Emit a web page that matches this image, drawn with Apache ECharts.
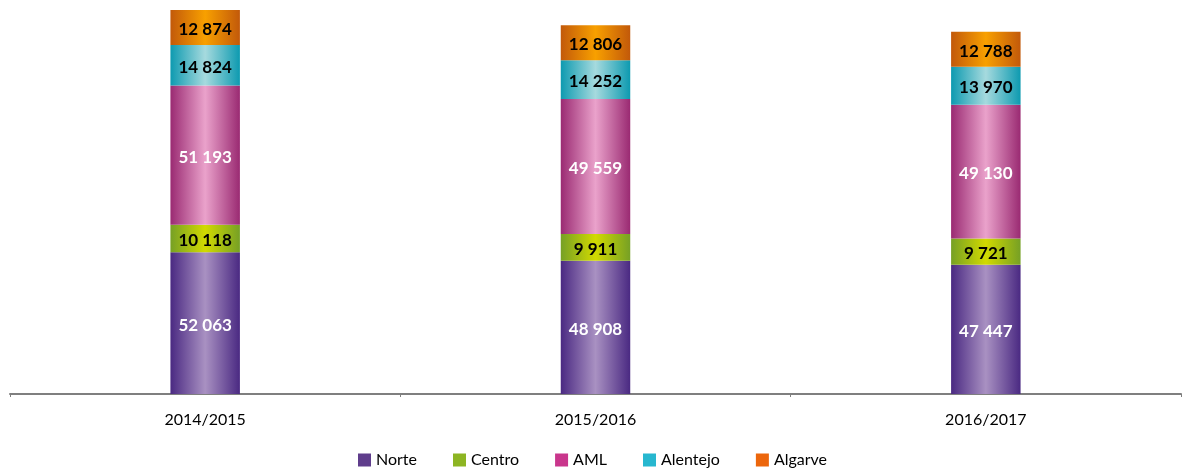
<!DOCTYPE html>
<html>
<head>
<meta charset="utf-8">
<script src="https://cdn.jsdelivr.net/npm/echarts@6/dist/echarts.min.js"></script>
<style>
  html, body { margin: 0; padding: 0; background: #fff; }
  #chart { width: 1185px; height: 470px; }
</style>
</head>
<body>
<div id="chart"></div>
<script>
// School years on the category axis
const years = ['2014/2015', '2015/2016', '2016/2017'];

// Values per region, stacked bottom to top
const norte    = [52063, 48908, 47447];
const centro   = [10118, 9911, 9721];
const aml      = [51193, 49559, 49130];
const alentejo = [14824, 14252, 13970];
const algarve  = [12874, 12806, 12788];

const regions = ['Norte', 'Centro', 'AML', 'Alentejo', 'Algarve'];

// Edge / centre colours of each bar's horizontal sheen, plus legend swatch colour
const palette = [
  { edge: '#4a2982', mid: '#a991c2', swatch: '#5f3d8c', text: '#ffffff' },
  { edge: '#76a025', mid: '#d2da00', swatch: '#8db523', text: '#000000' },
  { edge: '#9a2a72', mid: '#eaa2cb', swatch: '#c9368c', text: '#ffffff' },
  { edge: '#0d9ab0', mid: '#a6dade', swatch: '#27b7cf', text: '#000000' },
  { edge: '#c2590a', mid: '#f8a000', swatch: '#ec660c', text: '#000000' }
];

const values = [norte, centro, aml, alentejo, algarve];
const totals = years.map((_, i) => values.reduce((s, arr) => s + arr[i], 0));
const yMax = Math.max(...totals);

const fmt = v => String(v).replace(/\B(?=(\d{3})+(?!\d))/g, ' ');

const FONT = 'Lato';

const series = regions.map((name, k) => ({
  name: name,
  type: 'bar',
  stack: 'total',
  barWidth: '17.8%',
  data: values[k],
  itemStyle: {
    color: new echarts.graphic.LinearGradient(0, 0, 1, 0, [
      { offset: 0, color: palette[k].edge },
      { offset: 0.5, color: palette[k].mid },
      { offset: 1, color: palette[k].edge }
    ])
  },
  label: {
    show: true,
    position: 'inside',
    offset: [0, 2],
    formatter: p => fmt(p.value),
    color: palette[k].text,
    fontFamily: FONT,
    fontWeight: 'bold',
    fontSize: 17
  },
  emphasis: { disabled: true }
}));

const chart = echarts.init(document.getElementById('chart'), null, { renderer: 'canvas' });
chart.setOption({
  animation: false,
  color: palette.map(p => p.swatch),
  grid: { left: 10, right: 4, top: 10, bottom: 76, containLabel: false },
  legend: {
    top: 447,
    left: 'center',
    itemWidth: 13,
    itemHeight: 13,
    itemGap: 36,
    icon: 'rect',
    textStyle: { fontFamily: FONT, fontSize: 16, color: '#000' },
    data: regions.map((name, k) => ({ name: name, itemStyle: { color: palette[k].swatch } }))
  },
  xAxis: {
    type: 'category',
    data: years,
    axisLine: { lineStyle: { color: '#7f7f7f', width: 2 } },
    axisTick: { show: true, length: 3, lineStyle: { color: '#7f7f7f', width: 1 } },
    axisLabel: { fontFamily: FONT, fontSize: 16, color: '#000', margin: 18 }
  },
  yAxis: {
    type: 'value',
    min: 0,
    max: yMax,
    show: false,
    splitLine: { show: false }
  },
  series: series
});
</script>
</body>
</html>
